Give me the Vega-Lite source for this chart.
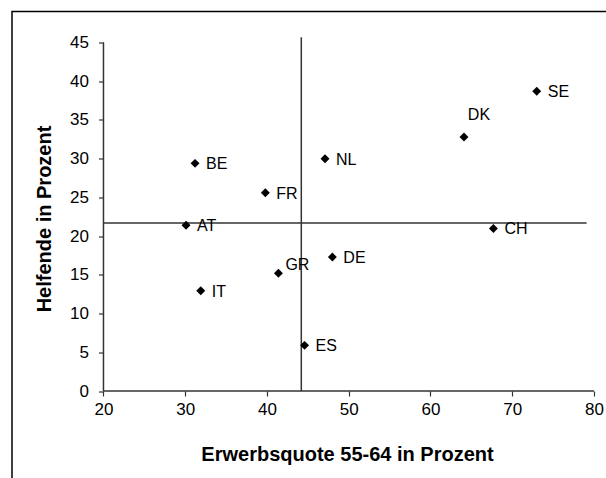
{
  "$schema": "https://vega.github.io/schema/vega-lite/v6.json",
  "width": 610,
  "height": 480,
  "autosize": {"type": "none"},
  "padding": {"left": 12, "top": 11.5, "right": 0, "bottom": 0},
  "background": "white",
  "config": {
    "view": {"stroke": "#000000", "strokeWidth": 1.5},
    "font": "Liberation Sans"
  },
  "datasets": {
    "points": [
      {"land": "SE", "x": 73.0, "y": 38.7},
      {"land": "DK", "x": 64.1, "y": 32.8},
      {"land": "NL", "x": 47.1, "y": 30.0},
      {"land": "BE", "x": 31.2, "y": 29.4},
      {"land": "FR", "x": 39.8, "y": 25.6},
      {"land": "AT", "x": 30.1, "y": 21.4},
      {"land": "CH", "x": 67.7, "y": 21.0},
      {"land": "DE", "x": 48.0, "y": 17.3},
      {"land": "GR", "x": 41.4, "y": 15.2},
      {"land": "IT", "x": 31.9, "y": 12.95},
      {"land": "ES", "x": 44.6, "y": 5.9}
    ],
    "hlines": [
      {"x": 20, "x2": 80, "y": 0},
      {"x": 20, "x2": 79.1, "y": 21.7}
    ],
    "vlines": [
      {"x": 20, "y": 0, "y2": 45},
      {"x": 44.2, "y": 0, "y2": 45.7}
    ]
  },
  "encoding": {
    "x": {
      "field": "x",
      "type": "quantitative",
      "scale": {"domain": [8.81, 83.43], "nice": false, "zero": false},
      "axis": {
        "values": [20, 30, 40, 50, 60, 70, 80],
        "offset": -100.5,
        "domain": false,
        "grid": false,
        "ticks": true,
        "tickSize": 5,
        "tickColor": "#333333",
        "tickWidth": 1.2,
        "labelFontSize": 17,
        "labelColor": "#000000",
        "labelPadding": 5,
        "labelFlush": false,
        "title": "Erwerbsquote 55-64 in Prozent",
        "titleFontSize": 20,
        "titleFontWeight": "bold",
        "titleColor": "#000000",
        "titleX": 335,
        "titleY": 69,
        "titleAlign": "center",
        "titleBaseline": "alphabetic"
      }
    },
    "y": {
      "field": "y",
      "type": "quantitative",
      "scale": {"domain": [-12.97, 49.01], "nice": false, "zero": false},
      "axis": {
        "values": [0, 5, 10, 15, 20, 25, 30, 35, 40, 45],
        "offset": -91.5,
        "domain": false,
        "grid": false,
        "ticks": true,
        "tickSize": 5,
        "tickColor": "#333333",
        "tickWidth": 1.2,
        "labelFontSize": 17,
        "labelColor": "#000000",
        "labelPadding": 10,
        "labelFlush": false,
        "title": "Helfende in Prozent",
        "titleFontSize": 20,
        "titleFontWeight": "bold",
        "titleColor": "#000000",
        "titleX": -59,
        "titleY": 207,
        "titleAngle": -90,
        "titleAlign": "center",
        "titleBaseline": "middle"
      }
    }
  },
  "layer": [
    {
      "data": {"name": "hlines"},
      "mark": {"type": "rule", "color": "#333333", "strokeWidth": 1.5},
      "encoding": {"x2": {"field": "x2"}}
    },
    {
      "data": {"name": "vlines"},
      "mark": {"type": "rule", "color": "#333333", "strokeWidth": 1.5},
      "encoding": {"y2": {"field": "y2"}}
    },
    {
      "data": {"name": "points"},
      "mark": {"type": "point", "shape": "diamond", "filled": true, "size": 80, "color": "#000000", "opacity": 1},
      "encoding": {}
    },
    {
      "data": {"name": "points"},
      "transform": [{"filter": "datum.land !== 'DK' && datum.land !== 'GR'"}],
      "mark": {"type": "text", "align": "left", "baseline": "middle", "dx": 11, "dy": 1, "fontSize": 16, "color": "#000000"},
      "encoding": {"text": {"field": "land"}}
    },
    {
      "data": {"name": "points"},
      "transform": [{"filter": "datum.land === 'DK'"}],
      "mark": {"type": "text", "align": "center", "baseline": "middle", "dx": 15, "dy": -22, "fontSize": 16, "color": "#000000"},
      "encoding": {"text": {"field": "land"}}
    },
    {
      "data": {"name": "points"},
      "transform": [{"filter": "datum.land === 'GR'"}],
      "mark": {"type": "text", "align": "left", "baseline": "middle", "dx": 7, "dy": -8, "fontSize": 16, "color": "#000000"},
      "encoding": {"text": {"field": "land"}}
    }
  ]
}
